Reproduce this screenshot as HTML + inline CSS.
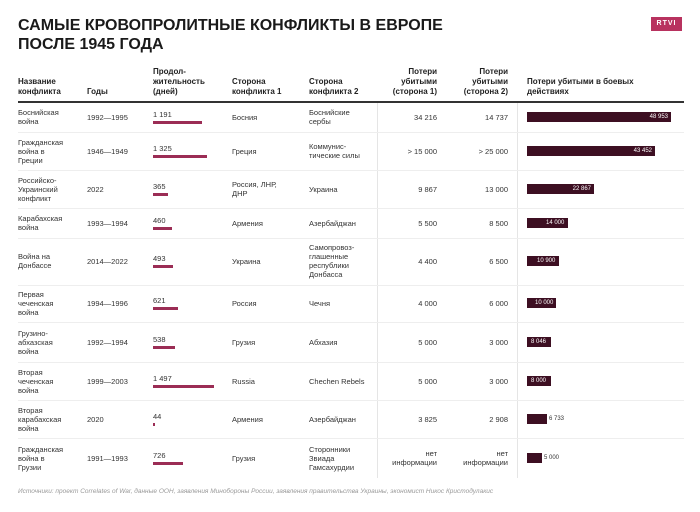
<!DOCTYPE html><html><head><meta charset="utf-8"><style>
body{margin:0;width:700px;height:512px;background:#fff;font-family:"Liberation Sans",sans-serif;color:#222;position:relative;overflow:hidden}
.a{position:absolute;white-space:nowrap}
.t{left:18px;top:16px;font-size:16px;font-weight:bold;line-height:19px;color:#1a1a1a}
.logo{left:651px;top:17px;width:31px;height:14px;background:#b8325f;color:#fff;font-size:7px;font-weight:bold;text-align:center;line-height:14px;letter-spacing:1px}
.h{font-size:8px;font-weight:bold;line-height:10px;color:#222}
.c{font-size:7.5px;line-height:9px;color:#333}
.r{text-align:right}
.ln{position:absolute;left:18px;width:666px;height:1px;background:#eee}
.db{position:absolute;height:3px;background:#9b2d55}
.lb{position:absolute;height:10px;background:#3d0f22}
.lv{font-size:6px;color:#fff;line-height:10px}
.lo{font-size:6px;color:#333;line-height:10px}
</style></head><body>
<div class="a t">САМЫЕ КРОВОПРОЛИТНЫЕ КОНФЛИКТЫ В ЕВРОПЕ<br>ПОСЛЕ 1945 ГОДА</div>
<div class="a logo">RTVI</div>
<div class="a h" style="left:18px;top:77px">Название<br>конфликта</div>
<div class="a h" style="left:87px;top:87px">Годы</div>
<div class="a h" style="left:153px;top:67px">Продол-<br>жительность<br>(дней)</div>
<div class="a h" style="left:232px;top:77px">Сторона<br>конфликта 1</div>
<div class="a h" style="left:309px;top:77px">Сторона<br>конфликта 2</div>
<div class="a h r" style="right:263px;top:67px">Потери<br>убитыми<br>(сторона 1)</div>
<div class="a h r" style="right:192px;top:67px">Потери<br>убитыми<br>(сторона 2)</div>
<div class="a h" style="left:527px;top:77px">Потери убитыми в боевых<br>действиях</div>
<div style="position:absolute;left:18px;top:101px;width:666px;height:2px;background:#333"></div>
<div style="position:absolute;left:377px;top:103px;width:1px;height:375px;background:#e5e5e5"></div>
<div style="position:absolute;left:517px;top:103px;width:1px;height:375px;background:#e5e5e5"></div>
<div class="ln" style="top:132px"></div><div class="ln" style="top:170px"></div><div class="ln" style="top:208px"></div><div class="ln" style="top:238px"></div><div class="ln" style="top:285px"></div><div class="ln" style="top:322px"></div><div class="ln" style="top:362px"></div><div class="ln" style="top:400px"></div><div class="ln" style="top:438px"></div>

<div class="a c" style="left:18px;top:108px">Боснийская<br>война</div><div class="a c" style="left:87px;top:113px">1992—1995</div><div class="a c" style="left:153px;top:110px">1 191</div><div class="db" style="left:153px;top:121px;width:49px"></div><div class="a c" style="left:232px;top:113px">Босния</div><div class="a c" style="left:309px;top:108px">Боснийские<br>сербы</div><div class="a c r" style="right:263px;top:113px">34 216</div><div class="a c r" style="right:192px;top:113px">14 737</div><div class="lb" style="left:527px;top:112px;width:144px"></div><div class="a lv r" style="right:32px;top:112px">48 953</div>

<div class="a c" style="left:18px;top:138px">Гражданская<br>война в<br>Греции</div><div class="a c" style="left:87px;top:147px">1946—1949</div><div class="a c" style="left:153px;top:144px">1 325</div><div class="db" style="left:153px;top:155px;width:54px"></div><div class="a c" style="left:232px;top:147px">Греция</div><div class="a c" style="left:309px;top:142px">Коммунис-<br>тические силы</div><div class="a c r" style="right:263px;top:147px">&gt; 15 000</div><div class="a c r" style="right:192px;top:147px">&gt; 25 000</div><div class="lb" style="left:527px;top:146px;width:128px"></div><div class="a lv r" style="right:48px;top:146px">43 452</div>

<div class="a c" style="left:18px;top:176px">Российско-<br>Украинский<br>конфликт</div><div class="a c" style="left:87px;top:185px">2022</div><div class="a c" style="left:153px;top:182px">365</div><div class="db" style="left:153px;top:193px;width:15px"></div><div class="a c" style="left:232px;top:180px">Россия, ЛНР,<br>ДНР</div><div class="a c" style="left:309px;top:185px">Украина</div><div class="a c r" style="right:263px;top:185px">9 867</div><div class="a c r" style="right:192px;top:185px">13 000</div><div class="lb" style="left:527px;top:184px;width:67px"></div><div class="a lv r" style="right:109px;top:184px">22 867</div>

<div class="a c" style="left:18px;top:214px">Карабахская<br>война</div><div class="a c" style="left:87px;top:219px">1993—1994</div><div class="a c" style="left:153px;top:216px">460</div><div class="db" style="left:153px;top:227px;width:19px"></div><div class="a c" style="left:232px;top:219px">Армения</div><div class="a c" style="left:309px;top:219px">Азербайджан</div><div class="a c r" style="right:263px;top:219px">5 500</div><div class="a c r" style="right:192px;top:219px">8 500</div><div class="lb" style="left:527px;top:218px;width:41px"></div><div class="a lv" style="left:546px;top:218px">14 000</div>

<div class="a c" style="left:18px;top:252px">Война на<br>Донбассе</div><div class="a c" style="left:87px;top:257px">2014—2022</div><div class="a c" style="left:153px;top:254px">493</div><div class="db" style="left:153px;top:265px;width:20px"></div><div class="a c" style="left:232px;top:257px">Украина</div><div class="a c" style="left:309px;top:243px">Самопровоз-<br>глашенные<br>республики<br>Донбасса</div><div class="a c r" style="right:263px;top:257px">4 400</div><div class="a c r" style="right:192px;top:257px">6 500</div><div class="lb" style="left:527px;top:256px;width:32px"></div><div class="a lv" style="left:537px;top:256px">10 900</div>

<div class="a c" style="left:18px;top:290px">Первая<br>чеченская<br>война</div><div class="a c" style="left:87px;top:299px">1994—1996</div><div class="a c" style="left:153px;top:296px">621</div><div class="db" style="left:153px;top:307px;width:25px"></div><div class="a c" style="left:232px;top:299px">Россия</div><div class="a c" style="left:309px;top:299px">Чечня</div><div class="a c r" style="right:263px;top:299px">4 000</div><div class="a c r" style="right:192px;top:299px">6 000</div><div class="lb" style="left:527px;top:298px;width:29px"></div><div class="a lv" style="left:535px;top:298px">10 000</div>

<div class="a c" style="left:18px;top:329px">Грузино-<br>абхазская<br>война</div><div class="a c" style="left:87px;top:338px">1992—1994</div><div class="a c" style="left:153px;top:335px">538</div><div class="db" style="left:153px;top:346px;width:22px"></div><div class="a c" style="left:232px;top:338px">Грузия</div><div class="a c" style="left:309px;top:338px">Абхазия</div><div class="a c r" style="right:263px;top:338px">5 000</div><div class="a c r" style="right:192px;top:338px">3 000</div><div class="lb" style="left:527px;top:337px;width:24px"></div><div class="a lv" style="left:531px;top:337px">8 046</div>

<div class="a c" style="left:18px;top:368px">Вторая<br>чеченская<br>война</div><div class="a c" style="left:87px;top:377px">1999—2003</div><div class="a c" style="left:153px;top:374px">1 497</div><div class="db" style="left:153px;top:385px;width:61px"></div><div class="a c" style="left:232px;top:377px">Russia</div><div class="a c" style="left:309px;top:377px">Chechen Rebels</div><div class="a c r" style="right:263px;top:377px">5 000</div><div class="a c r" style="right:192px;top:377px">3 000</div><div class="lb" style="left:527px;top:376px;width:24px"></div><div class="a lv" style="left:531px;top:376px">8 000</div>

<div class="a c" style="left:18px;top:406px">Вторая<br>карабахская<br>война</div><div class="a c" style="left:87px;top:415px">2020</div><div class="a c" style="left:153px;top:412px">44</div><div class="db" style="left:153px;top:423px;width:2px"></div><div class="a c" style="left:232px;top:415px">Армения</div><div class="a c" style="left:309px;top:415px">Азербайджан</div><div class="a c r" style="right:263px;top:415px">3 825</div><div class="a c r" style="right:192px;top:415px">2 908</div><div class="lb" style="left:527px;top:414px;width:20px"></div><div class="a lo" style="left:549px;top:414px">6 733</div>

<div class="a c" style="left:18px;top:445px">Гражданская<br>война в<br>Грузии</div><div class="a c" style="left:87px;top:454px">1991—1993</div><div class="a c" style="left:153px;top:451px">726</div><div class="db" style="left:153px;top:462px;width:30px"></div><div class="a c" style="left:232px;top:454px">Грузия</div><div class="a c" style="left:309px;top:445px">Сторонники<br>Звиада<br>Гамсахурдии</div><div class="a c r" style="right:263px;top:449px">нет<br>информации</div><div class="a c r" style="right:192px;top:449px">нет<br>информации</div><div class="lb" style="left:527px;top:453px;width:15px"></div><div class="a lo" style="left:544px;top:453px">5 000</div>

<div class="a" style="left:18px;top:488px;font-size:6.5px;font-style:italic;color:#999">Источники: проект Correlates of War, данные ООН, заявления Минобороны России, заявления правительства Украины, экономист Никос Кристодулакис</div>
</body></html>
